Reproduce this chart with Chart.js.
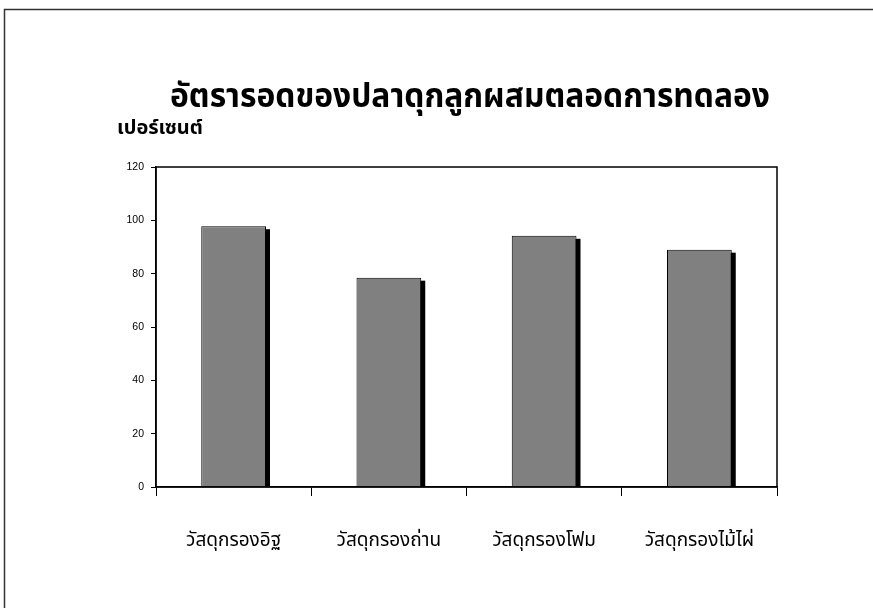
<!DOCTYPE html>
<html>
<head>
<meta charset="utf-8">
<script src="https://cdn.jsdelivr.net/npm/chart.js@4"></script>
<style>
  html, body { margin: 0; padding: 0; background: #fff; }
  #wrap { width: 873px; height: 608px; position: relative; }
</style>
</head>
<body>
<div id="wrap"><canvas id="c" width="873" height="608"></canvas></div>
<script>
// Survival rate of hybrid catfish by filter material
const chartTitle = 'อัตรารอดของปลาดุกลูกผสมตลอดการทดลอง';
const yAxisTitle = 'เปอร์เซนต์';
const categories = ['วัสดุกรองอิฐ', 'วัสดุกรองถ่าน', 'วัสดุกรองโฟม', 'วัสดุกรองไม้ไผ่'];
const survival = [97.8, 78.5, 94.2, 89.0];
const yTicks = [0, 20, 40, 60, 80, 100, 120];

const thaiFont = '"Noto Sans Thai", "Noto Sans", "DejaVu Sans", sans-serif';

// Draws text squeezed horizontally to a target width
function fillFitted(ctx, text, cx, cy, width) {
  const w = ctx.measureText(text).width;
  const s = Math.min(1, width / w);
  ctx.save();
  ctx.translate(cx, cy);
  ctx.scale(s, 1);
  ctx.fillText(text, 0, 0);
  ctx.restore();
}

// Outer frame, bar shadows, plot box and header texts
const decor = {
  id: 'decor',
  beforeDraw(chart) {
    const ctx = chart.ctx;
    ctx.save();
    ctx.strokeStyle = '#333';
    ctx.lineWidth = 1.5;
    ctx.beginPath();
    ctx.moveTo(4.5, 610);
    ctx.lineTo(4.5, 9.5);
    ctx.lineTo(875, 9.5);
    ctx.stroke();
    ctx.restore();
  },
  beforeDatasetsDraw(chart) {
    const ctx = chart.ctx;
    const a = chart.chartArea;
    ctx.save();
    ctx.beginPath();
    ctx.rect(a.left, a.top, a.right - a.left, a.bottom - a.top);
    ctx.clip();
    ctx.fillStyle = '#000';
    chart.getDatasetMeta(0).data.forEach(bar => {
      const p = bar.getProps(['x', 'y', 'base', 'width'], true);
      ctx.fillRect(p.x - p.width / 2 + 4, p.y + 3, p.width, p.base - p.y);
    });
    ctx.restore();
  },
  afterDatasetsDraw(chart) {
    const ctx = chart.ctx;
    const a = chart.chartArea;
    ctx.save();
    ctx.strokeStyle = '#000';
    ctx.lineWidth = 1.5;
    ctx.strokeRect(a.left, a.top, a.right - a.left, a.bottom - a.top);
    ctx.restore();
  },
  afterDraw(chart) {
    const ctx = chart.ctx;
    ctx.save();
    ctx.fillStyle = '#000';
    ctx.textBaseline = 'middle';
    ctx.textAlign = 'center';
    ctx.font = 'bold 34px ' + thaiFont;
    fillFitted(ctx, chartTitle, 470, 100, 600);
    ctx.textAlign = 'left';
    ctx.font = 'bold 20px ' + thaiFont;
    fillFitted(ctx, yAxisTitle, 117, 130, 88);
    ctx.restore();
  }
};

new Chart(document.getElementById('c'), {
  type: 'bar',
  data: {
    labels: categories,
    datasets: [{
      data: survival,
      backgroundColor: '#808080',
      borderColor: '#000',
      borderWidth: 1,
      barPercentage: 0.417,
      categoryPercentage: 1.0,
      clip: 0
    }]
  },
  options: {
    responsive: false,
    animation: false,
    events: [],
    layout: { padding: { left: 0, right: 96, top: 167, bottom: 0 } },
    plugins: {
      legend: { display: false },
      title: { display: false },
      tooltip: { enabled: false }
    },
    scales: {
      x: {
        offset: true,
        afterFit(scale) { scale.height = 121; },
        grid: {
          display: true,
          offset: true,
          drawOnChartArea: false,
          drawTicks: true,
          tickLength: 9,
          color: '#000',
          lineWidth: 1
        },
        border: { display: true, color: '#000', width: 1.5 },
        ticks: {
          color: '#000',
          padding: 35,
          maxRotation: 0,
          font: { family: thaiFont, size: 19 }
        }
      },
      y: {
        min: 0,
        max: 120,
        afterFit(scale) { scale.width = 156; },
        afterBuildTicks(scale) { scale.ticks = yTicks.map(v => ({ value: v })); },
        grid: {
          display: true,
          drawOnChartArea: false,
          drawTicks: true,
          tickLength: 5,
          color: '#000',
          lineWidth: 1
        },
        border: { display: true, color: '#000', width: 1.5 },
        ticks: {
          color: '#000',
          padding: 7,
          font: { family: '"Liberation Sans", Arial, sans-serif', size: 10.5 }
        }
      }
    }
  },
  plugins: [decor]
});
</script>
</body>
</html>
